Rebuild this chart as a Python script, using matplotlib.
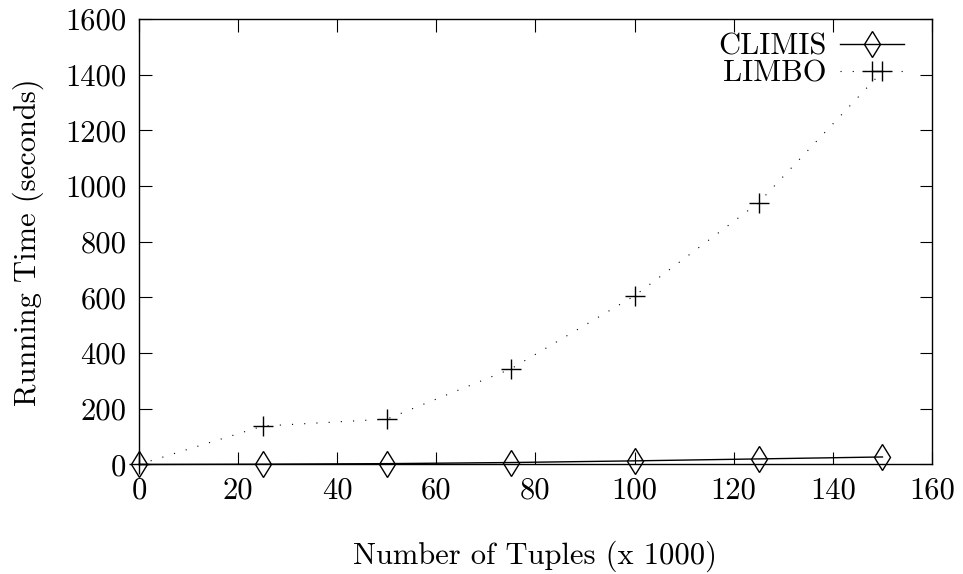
import matplotlib
matplotlib.use("Agg")
import matplotlib.pyplot as plt
from matplotlib.lines import Line2D

plt.rcParams["font.family"] = "cmr10"
plt.rcParams["axes.unicode_minus"] = False

# tuples (thousands) vs running time (seconds)
tuples = [0, 25, 50, 75, 100, 125, 150]
climis_time = [0, 1, 3, 7, 13, 20, 27]
limbo_time = [0, 138, 163, 343, 606, 940, 1412]

x_ticks = [0, 20, 40, 60, 80, 100, 120, 140, 160]
y_ticks = [0, 200, 400, 600, 800, 1000, 1200, 1400, 1600]

fig = plt.figure(figsize=(9.63, 5.74), dpi=100)
ax = fig.add_axes([0.1443, 0.1908, 0.8235, 0.7761])

dotted = (0, (1, 10))
ax.plot(tuples, climis_time, color="black", linewidth=1.0, marker="d",
        markersize=13, markerfacecolor="none", markeredgewidth=1.0,
        clip_on=False, zorder=3)
ax.plot(tuples, limbo_time, color="black", linewidth=0.8, linestyle=dotted,
        marker="+", markersize=14.5, markeredgewidth=1.0,
        clip_on=False, zorder=3)

ax.set_xlim(0, 160)
ax.set_ylim(0, 1600)
ax.set_xticks(x_ticks)
ax.set_yticks(y_ticks)
ax.tick_params(direction="in", length=9, width=0.8, top=True, right=True,
               labelsize=22, pad=9)
for s in ax.spines.values():
    s.set_linewidth(1.0)

ax.set_xlabel("Number of Tuples (x 1000)", fontsize=22, labelpad=26)
ax.set_ylabel("Running Time (seconds)", fontsize=22, labelpad=15)

handles = [
    Line2D([], [], color="black", linewidth=1.0, marker="d", markersize=13,
           markerfacecolor="none", markeredgewidth=1.0),
    Line2D([], [], color="black", linewidth=0.8, linestyle=dotted,
           marker="+", markersize=14.5, markeredgewidth=1.0),
]
ax.legend(handles, ["CLIMIS", "LIMBO"], loc="upper right",
          bbox_to_anchor=(0.988, 1.01), frameon=False, markerfirst=False,
          fontsize=22, handlelength=2.1, handletextpad=0.45,
          labelspacing=0.0, borderaxespad=0.2)

fig.savefig("out.png", dpi=100)
